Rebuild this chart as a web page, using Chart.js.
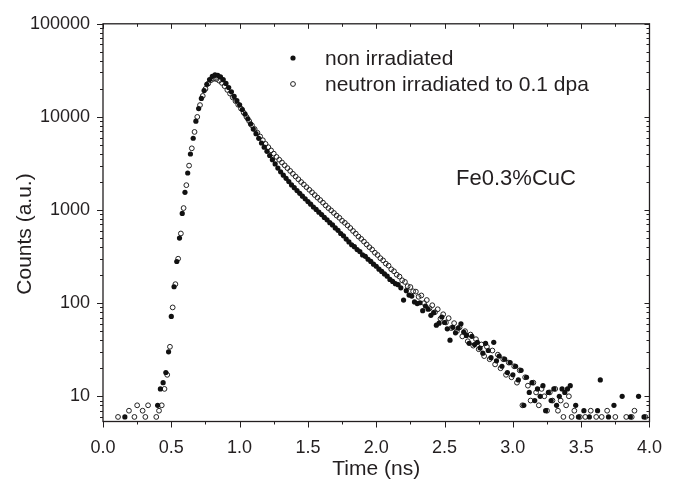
<!DOCTYPE html>
<html>
<head>
<meta charset="utf-8">
<script src="https://cdn.jsdelivr.net/npm/chart.js@4.4.0/dist/chart.umd.min.js"></script>
<style>
  html, body { margin: 0; padding: 0; background: #fff; }
  #wrap { width: 678px; height: 490px; }
</style>
</head>
<body>
<div id="wrap"><canvas id="decayChart" width="678" height="490"></canvas></div>
<script>
// Positron lifetime spectra, Fe0.3%CuC
const nonTime = [
  0.10, 0.12, 0.14, 0.16, 0.18, 0.20, 0.22, 0.24, 0.26, 0.28,
  0.30, 0.32, 0.34, 0.36, 0.38, 0.40, 0.42, 0.44, 0.46, 0.48,
  0.50, 0.52, 0.54, 0.56, 0.58, 0.60, 0.62, 0.64, 0.66, 0.68,
  0.70, 0.72, 0.74, 0.76, 0.78, 0.80, 0.82, 0.84, 0.86, 0.88,
  0.90, 0.92, 0.94, 0.96, 0.98, 1.00, 1.02, 1.04, 1.06, 1.08,
  1.10, 1.12, 1.14, 1.16, 1.18, 1.20, 1.22, 1.24, 1.26, 1.28,
  1.30, 1.32, 1.34, 1.36, 1.38, 1.40, 1.42, 1.44, 1.46, 1.48,
  1.50, 1.52, 1.54, 1.56, 1.58, 1.60, 1.62, 1.64, 1.66, 1.68,
  1.70, 1.72, 1.74, 1.76, 1.78, 1.80, 1.82, 1.84, 1.86, 1.88,
  1.90, 1.92, 1.94, 1.96, 1.98, 2.00, 2.02, 2.04, 2.06, 2.08,
  2.10, 2.12, 2.14, 2.16, 2.18, 2.20, 2.22, 2.24, 2.26, 2.28,
  2.30, 2.32, 2.34, 2.36, 2.38, 2.40, 2.42, 2.44, 2.46, 2.48,
  2.50, 2.52, 2.54, 2.56, 2.58, 2.60, 2.62, 2.64, 2.66, 2.68,
  2.70, 2.72, 2.74, 2.76, 2.78, 2.80, 2.82, 2.84, 2.86, 2.88,
  2.90, 2.92, 2.94, 2.96, 2.98, 3.00, 3.02, 3.04, 3.06, 3.08,
  3.10, 3.12, 3.14, 3.16, 3.18, 3.20, 3.22, 3.24, 3.26, 3.28,
  3.30, 3.32, 3.34, 3.36, 3.38, 3.40, 3.42, 3.44, 3.46, 3.48,
  3.50, 3.52, 3.54, 3.56, 3.58, 3.60, 3.62, 3.64, 3.66, 3.68,
  3.70, 3.72, 3.74, 3.76, 3.78, 3.80, 3.82, 3.84, 3.86, 3.88,
  3.90, 3.92, 3.94, 3.96, 3.98, 4.00,
];
const nonCounts = [
  4, 3, 4, 6, 3, 4, 5, 3, 4, 5,
  4, 3, 5, 4, 5, 8, 12, 14, 18, 30,
  72, 150, 280, 500, 920, 1550, 2500, 4000, 5900, 9000,
  12300, 15800, 19200, 22400, 25200, 27300, 28300, 28000, 26900, 25100,
  22900, 20650, 18600, 16600, 14960, 13490, 12020, 10720, 9550, 8410,
  7410, 6610, 5890, 5250, 4730, 4270, 3850, 3470, 3130, 2820,
  2570, 2370, 2190, 2020, 1860, 1740, 1620, 1510, 1410, 1320,
  1232, 1155, 1078, 1016, 948, 893, 834, 786, 732, 692,
  642, 606, 560, 528, 488, 455, 424, 404, 376, 358,
  330, 318, 296, 281, 262, 249, 232, 219, 206, 195,
  180, 171, 162, 158, 146, 108, 136, 122, 119, 103,
  99, 101, 83, 93, 86, 74, 79, 58, 61, 71,
  62, 53, 40, 55, 48, 54, 60, 49, 45, 37,
  44, 36, 38, 33, 29, 37, 31, 26, 38, 24,
  27, 21, 25, 18, 23, 17, 21, 15, 19, 8,
  16, 11, 14, 9, 12, 10, 13, 7, 11, 9,
  12, 8, 10, 12, 11, 12, 13, 5, 8, 6,
  4, 7, 5, 6, 4, 5, 7, 15, 4, 5,
  6, 4, 8, 5, 3, 10, 5, 4, 6, 3,
  5, 10, 4, 6, 5, 4,
];
const irrTime = [
  0.11, 0.13, 0.15, 0.17, 0.19, 0.21, 0.23, 0.25, 0.27, 0.29,
  0.31, 0.33, 0.35, 0.37, 0.39, 0.41, 0.43, 0.45, 0.47, 0.49,
  0.51, 0.53, 0.55, 0.57, 0.59, 0.61, 0.63, 0.65, 0.67, 0.69,
  0.71, 0.73, 0.75, 0.77, 0.79, 0.81, 0.83, 0.85, 0.87, 0.89,
  0.91, 0.93, 0.95, 0.97, 0.99, 1.01, 1.03, 1.05, 1.07, 1.09,
  1.11, 1.13, 1.15, 1.17, 1.19, 1.21, 1.23, 1.25, 1.27, 1.29,
  1.31, 1.33, 1.35, 1.37, 1.39, 1.41, 1.43, 1.45, 1.47, 1.49,
  1.51, 1.53, 1.55, 1.57, 1.59, 1.61, 1.63, 1.65, 1.67, 1.69,
  1.71, 1.73, 1.75, 1.77, 1.79, 1.81, 1.83, 1.85, 1.87, 1.89,
  1.91, 1.93, 1.95, 1.97, 1.99, 2.01, 2.03, 2.05, 2.07, 2.09,
  2.11, 2.13, 2.15, 2.17, 2.19, 2.21, 2.23, 2.25, 2.27, 2.29,
  2.31, 2.33, 2.35, 2.37, 2.39, 2.41, 2.43, 2.45, 2.47, 2.49,
  2.51, 2.53, 2.55, 2.57, 2.59, 2.61, 2.63, 2.65, 2.67, 2.69,
  2.71, 2.73, 2.75, 2.77, 2.79, 2.81, 2.83, 2.85, 2.87, 2.89,
  2.91, 2.93, 2.95, 2.97, 2.99, 3.01, 3.03, 3.05, 3.07, 3.09,
  3.11, 3.13, 3.15, 3.17, 3.19, 3.21, 3.23, 3.25, 3.27, 3.29,
  3.31, 3.33, 3.35, 3.37, 3.39, 3.41, 3.43, 3.45, 3.47, 3.49,
  3.51, 3.53, 3.55, 3.57, 3.59, 3.61, 3.63, 3.65, 3.67, 3.69,
  3.71, 3.73, 3.75, 3.77, 3.79, 3.81, 3.83, 3.85, 3.87, 3.89,
  3.91, 3.93, 3.95, 3.97, 3.99,
];
const irrCounts = [
  6, 4, 5, 4, 7, 5, 6, 8, 5, 7,
  6, 8, 5, 4, 6, 7, 8, 12, 17, 34,
  90, 160, 300, 560, 1050, 1850, 3000, 4600, 6900, 10000,
  13400, 16800, 20000, 22800, 24800, 25700, 25500, 24500, 23200, 21400,
  19500, 17800, 16200, 14800, 13500, 12300, 11100, 10000, 9020, 8130,
  7410, 6760, 6170, 5620, 5130, 4730, 4370, 4030, 3720, 3470,
  3240, 3020, 2820, 2630, 2450, 2290, 2140, 2000, 1880, 1760,
  1650, 1550, 1450, 1360, 1280, 1200, 1120, 1050, 991, 931,
  872, 826, 768, 729, 684, 641, 596, 558, 519, 490,
  458, 427, 399, 376, 348, 329, 304, 288, 266, 253,
  231, 220, 202, 193, 176, 169, 152, 149, 134, 133,
  117, 121, 100, 108, 88, 95, 80, 86, 68, 76,
  62, 69, 54, 61, 50, 55, 44, 50, 39, 46,
  35, 41, 32, 36, 27, 34, 25, 31, 22, 28,
  20, 25, 17, 23, 16, 21, 14, 19, 8, 16,
  13, 9, 14, 11, 8, 12, 10, 7, 11, 9,
  12, 7, 9, 6, 8, 10, 6, 7, 5, 6,
  4, 6, 5, 7, 5, 6, 4, 6, 5, 7,
  4, 5, 6, 4, 5, 4, 6, 5, 6, 7,
  4, 5, 3, 6, 5,
];

const seriesLabels = ["non irradiated", "neutron irradiated to 0.1 dpa"];
const sampleLabel = "Fe0.3%CuC";
const yTitle = "Counts (a.u.)";
const xTickValues = [0, 0.5, 1, 1.5, 2, 2.5, 3, 3.5, 4];
const xMinorValues = [0.25, 0.75, 1.25, 1.75, 2.25, 2.75, 3.25, 3.75];
const yTickValues = [10, 100, 1000, 10000, 100000];
const yMinorValues = [
  6, 7, 8, 9, 20, 30, 40, 50, 60, 70, 80, 90,
  200, 300, 400, 500, 600, 700, 800, 900,
  2000, 3000, 4000, 5000, 6000, 7000, 8000, 9000,
  20000, 30000, 40000, 50000, 60000, 70000, 80000, 90000,
];

const INK = "#231f20";
const FONT = "'Liberation Sans', Arial, sans-serif";

const toPoints = (times, counts) => times.map((t, i) => ({ x: t, y: counts[i] }));

// Frame, Origin-style ticks, legend, y title and sample label
const decorations = {
  id: "decorations",
  afterDraw(chart) {
    const { ctx, chartArea: a } = chart;
    const xs = chart.scales.x;
    const ys = chart.scales.y;
    ctx.save();
    ctx.strokeStyle = INK;
    ctx.lineWidth = 1.3;
    ctx.strokeRect(a.left, a.top, a.right - a.left, a.bottom - a.top);

    ctx.lineWidth = 1;
    ctx.beginPath();
    const xTick = (v, outLen, inLen) => {
      const px = Math.round(xs.getPixelForValue(v)) + 0.5;
      ctx.moveTo(px, a.bottom);
      ctx.lineTo(px, a.bottom + outLen);
      ctx.moveTo(px, a.top);
      ctx.lineTo(px, a.top + inLen);
    };
    const yTick = (v, outLen, inLen) => {
      const py = Math.round(ys.getPixelForValue(v)) + 0.5;
      ctx.moveTo(a.left, py);
      ctx.lineTo(a.left - outLen, py);
      ctx.moveTo(a.right, py);
      ctx.lineTo(a.right - inLen, py);
    };
    xTickValues.forEach((v) => xTick(v, 6, 5));
    xMinorValues.forEach((v) => xTick(v, 3, 3));
    yTickValues.forEach((v) => yTick(v, 6, 5));
    yMinorValues.forEach((v) => yTick(v, 3, 3));
    ctx.stroke();

    // legend
    const ds = chart.data.datasets;
    const rows = [58, 84];
    ctx.font = `21px ${FONT}`;
    ctx.textBaseline = "middle";
    ctx.textAlign = "left";
    ds.forEach((d, i) => {
      ctx.beginPath();
      ctx.arc(293, rows[i], d.pointRadius, 0, Math.PI * 2);
      if (d.pointBorderWidth > 0) {
        ctx.lineWidth = d.pointBorderWidth;
        ctx.strokeStyle = d.pointBorderColor;
        ctx.stroke();
      } else {
        ctx.fillStyle = d.pointBackgroundColor;
        ctx.fill();
      }
      ctx.fillStyle = INK;
      ctx.fillText(d.label, 325, rows[i] + 1);
    });

    ctx.font = `22px ${FONT}`;
    ctx.textAlign = "center";
    ctx.fillText(sampleLabel, 516, 179);

    ctx.translate(25, 234);
    ctx.rotate(-Math.PI / 2);
    ctx.font = `21px ${FONT}`;
    ctx.fillText(yTitle, 0, 0);
    ctx.restore();
  },
};

function renderChart() {
  const ctx = document.getElementById("decayChart").getContext("2d");
  return new Chart(ctx, {
    type: "scatter",
    data: {
      datasets: [
        {
          label: seriesLabels[0],
          data: toPoints(nonTime, nonCounts),
          pointRadius: 2.6,
          pointBorderWidth: 0,
          pointBackgroundColor: "#111",
          pointBorderColor: "#111",
          clip: 0,
        },
        {
          label: seriesLabels[1],
          data: toPoints(irrTime, irrCounts),
          pointRadius: 2.4,
          pointBorderWidth: 1,
          pointBackgroundColor: "rgba(255,255,255,0)",
          pointBorderColor: "#222",
          clip: 0,
        },
      ],
    },
    options: {
      responsive: false,
      animation: false,
      events: [],
      layout: { padding: { top: 19.5, right: 28, left: 0, bottom: 0 } },
      plugins: {
        legend: { display: false },
        tooltip: { enabled: false },
      },
      scales: {
        x: {
          type: "linear",
          min: 0,
          max: 4,
          afterFit: (scale) => {
            scale.height = 68.5;
          },
          afterBuildTicks: (scale) => {
            scale.ticks = xTickValues.map((v) => ({ value: v }));
          },
          grid: { display: false, drawTicks: false },
          border: { display: false },
          ticks: {
            autoSkip: false,
            maxRotation: 0,
            padding: 16,
            color: INK,
            font: { family: FONT, size: 18 },
            callback: (v) => Number(v).toFixed(1),
          },
          title: {
            display: true,
            text: "Time (ns)",
            color: INK,
            font: { family: FONT, size: 21 },
            padding: { top: 0, bottom: 8 },
          },
        },
        y: {
          type: "logarithmic",
          min: 5.36,
          max: 100000,
          afterFit: (scale) => {
            scale.width = 103;
          },
          afterBuildTicks: (scale) => {
            scale.ticks = yTickValues.map((v) => ({ value: v }));
          },
          grid: { display: false, drawTicks: false },
          border: { display: false },
          ticks: {
            padding: 13,
            color: INK,
            font: { family: FONT, size: 18 },
            callback: (v) => String(v),
          },
        },
      },
    },
    plugins: [decorations],
  });
}

document.addEventListener("DOMContentLoaded", () => renderChart());
</script>
</body>
</html>
